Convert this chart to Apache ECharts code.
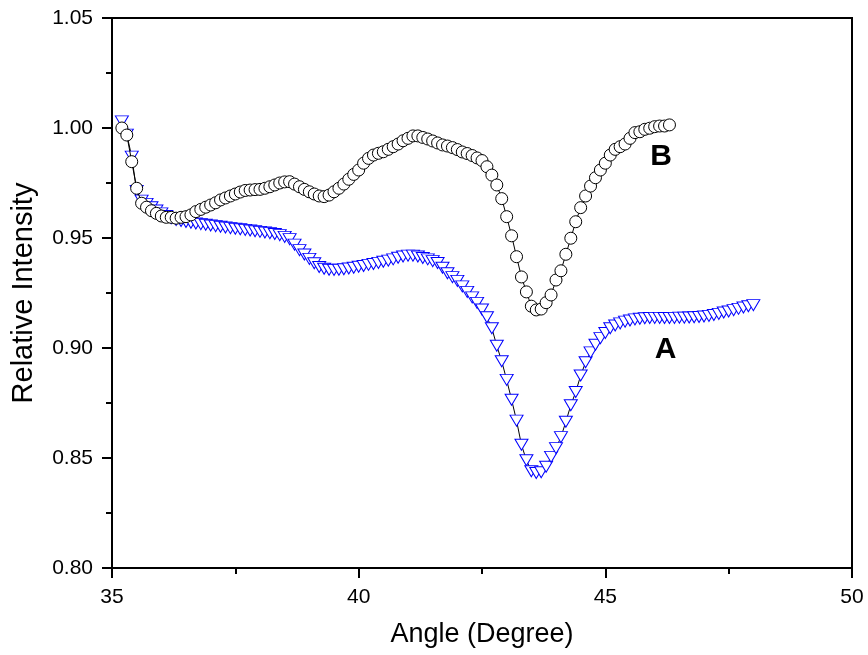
<!DOCTYPE html>
<html>
<head>
<meta charset="utf-8">
<script src="https://cdn.jsdelivr.net/npm/echarts@6/dist/echarts.min.js"></script>
<style>
  html, body { margin: 0; padding: 0; background: #fff; }
  #chart { width: 868px; height: 655px; }
</style>
</head>
<body>
<div id="chart"></div>
<script>
// Scan angles (degrees) and relative intensities for the two curves.
const angleA = [
  35.2, 35.3, 35.4, 35.5, 35.6, 35.7, 35.8, 35.9, 36.0, 36.1,
  36.2, 36.3, 36.4, 36.5, 36.6, 36.7, 36.8, 36.9, 37.0, 37.1,
  37.2, 37.3, 37.4, 37.5, 37.6, 37.7, 37.8, 37.9, 38.0, 38.1,
  38.2, 38.3, 38.4, 38.5, 38.6, 38.7, 38.8, 38.9, 39.0, 39.1,
  39.2, 39.3, 39.4, 39.5, 39.6, 39.7, 39.8, 39.9, 40.0, 40.1,
  40.2, 40.3, 40.4, 40.5, 40.6, 40.7, 40.8, 40.9, 41.0, 41.1,
  41.2, 41.3, 41.4, 41.5, 41.6, 41.7, 41.8, 41.9, 42.0, 42.1,
  42.2, 42.3, 42.4, 42.5, 42.6, 42.7, 42.8, 42.9, 43.0, 43.1,
  43.2, 43.3, 43.4, 43.5, 43.6, 43.7, 43.8, 43.9, 44.0, 44.1,
  44.2, 44.3, 44.4, 44.5, 44.6, 44.7, 44.8, 44.9, 45.0, 45.1,
  45.2, 45.3, 45.4, 45.5, 45.6, 45.7, 45.8, 45.9, 46.0, 46.1,
  46.2, 46.3, 46.4, 46.5, 46.6, 46.7, 46.8, 46.9, 47.0, 47.1,
  47.2, 47.3, 47.4, 47.5, 47.6, 47.7, 47.8, 47.9, 48.0
];
const intensityA = [
  1.0030, 0.9970, 0.9870, 0.9714, 0.9670, 0.9655, 0.9640, 0.9625, 0.9612, 0.9600,
  0.9590, 0.9582, 0.9577, 0.9573, 0.9569, 0.9566, 0.9563, 0.9560, 0.9557, 0.9554,
  0.9551, 0.9548, 0.9545, 0.9542, 0.9540, 0.9537, 0.9534, 0.9531, 0.9528, 0.9525,
  0.9522, 0.9518, 0.9513, 0.9505, 0.9495, 0.9470, 0.9445, 0.9425, 0.9405, 0.9385,
  0.9368, 0.9360, 0.9356, 0.9355, 0.9356, 0.9358, 0.9361, 0.9365, 0.9369, 0.9373,
  0.9378, 0.9382, 0.9387, 0.9392, 0.9397, 0.9403, 0.9410, 0.9416, 0.9420, 0.9420,
  0.9416, 0.9409, 0.9403, 0.9395, 0.9386, 0.9365, 0.9340, 0.9322, 0.9305, 0.9280,
  0.9255, 0.9230, 0.9205, 0.9175, 0.9140, 0.9090, 0.9010, 0.8940, 0.8855, 0.8765,
  0.8670, 0.8560, 0.8490, 0.8440, 0.8432, 0.8435, 0.8460, 0.8505, 0.8545, 0.8595,
  0.8665, 0.8740, 0.8800, 0.8875, 0.8935, 0.8980, 0.9015, 0.9045, 0.9068, 0.9090,
  0.9102, 0.9112, 0.9120, 0.9125, 0.9130, 0.9133, 0.9135, 0.9136, 0.9137, 0.9137,
  0.9136, 0.9136, 0.9137, 0.9138, 0.9138, 0.9139, 0.9140, 0.9141, 0.9143, 0.9146,
  0.9150, 0.9155, 0.9161, 0.9166, 0.9172, 0.9178, 0.9184, 0.9190, 0.9195
];

const angleB = [
  35.2, 35.3, 35.4, 35.5, 35.6, 35.7, 35.8, 35.9, 36.0, 36.1,
  36.2, 36.3, 36.4, 36.5, 36.6, 36.7, 36.8, 36.9, 37.0, 37.1,
  37.2, 37.3, 37.4, 37.5, 37.6, 37.7, 37.8, 37.9, 38.0, 38.1,
  38.2, 38.3, 38.4, 38.5, 38.6, 38.7, 38.8, 38.9, 39.0, 39.1,
  39.2, 39.3, 39.4, 39.5, 39.6, 39.7, 39.8, 39.9, 40.0, 40.1,
  40.2, 40.3, 40.4, 40.5, 40.6, 40.7, 40.8, 40.9, 41.0, 41.1,
  41.2, 41.3, 41.4, 41.5, 41.6, 41.7, 41.8, 41.9, 42.0, 42.1,
  42.2, 42.3, 42.4, 42.5, 42.6, 42.7, 42.8, 42.9, 43.0, 43.1,
  43.2, 43.3, 43.4, 43.5, 43.6, 43.7, 43.8, 43.9, 44.0, 44.1,
  44.2, 44.3, 44.4, 44.5, 44.6, 44.7, 44.8, 44.9, 45.0, 45.1,
  45.2, 45.3, 45.4, 45.5, 45.6, 45.7, 45.8, 45.9, 46.0, 46.1,
  46.2, 46.3
];
const intensityB = [
  1.0000, 0.9968, 0.9847, 0.9726, 0.9658, 0.9640, 0.9624, 0.9612, 0.9600, 0.9594,
  0.9594, 0.9590, 0.9594, 0.9597, 0.9605, 0.9620, 0.9630, 0.9640, 0.9650, 0.9660,
  0.9673, 0.9682, 0.9691, 0.9700, 0.9709, 0.9716, 0.9718, 0.9720, 0.9721, 0.9726,
  0.9733, 0.9741, 0.9750, 0.9755, 0.9756, 0.9745, 0.9733, 0.9721, 0.9710, 0.9700,
  0.9691, 0.9688, 0.9695, 0.9710, 0.9726, 0.9745, 0.9767, 0.9789, 0.9809, 0.9840,
  0.9862, 0.9877, 0.9885, 0.9892, 0.9903, 0.9915, 0.9927, 0.9942, 0.9953, 0.9964,
  0.9964, 0.9957, 0.9950, 0.9941, 0.9932, 0.9923, 0.9918, 0.9911, 0.9902, 0.9891,
  0.9884, 0.9875, 0.9864, 0.9852, 0.9824, 0.9786, 0.9741, 0.9679, 0.9597, 0.9510,
  0.9415, 0.9323, 0.9255, 0.9190, 0.9173, 0.9177, 0.9206, 0.9241, 0.9309, 0.9351,
  0.9426, 0.9499, 0.9574, 0.9638, 0.9691, 0.9736, 0.9774, 0.9809, 0.9840, 0.9877,
  0.9903, 0.9915, 0.9927, 0.9953, 0.9979, 0.9983, 0.9994, 0.9999, 1.0006, 1.0009,
  1.0009, 1.0014
];

// Curve labels, anchored in data coordinates.
const curveLabels = [
  { text: 'A', angle: 46.22, value: 0.899 },
  { text: 'B', angle: 46.13, value: 0.9868 }
];

const xTicks = { min: 35, max: 50, step: 5 };
const yTicks = { min: 0.80, max: 1.05, step: 0.05 };

const pairs = (xs, ys) => xs.map((x, i) => [x, ys[i]]);

const FONT = '"Liberation Sans", Arial, sans-serif';

const axisCommon = {
  axisLine: { show: true, onZero: false, lineStyle: { color: '#000', width: 2 } },
  axisTick: { show: true, inside: false, length: 10, lineStyle: { color: '#000', width: 2 } },
  minorTick: { show: true, splitNumber: 2, length: 6, lineStyle: { color: '#000', width: 2 } },
  splitLine: { show: false },
  minorSplitLine: { show: false }
};

const chart = echarts.init(document.getElementById('chart'), null, { renderer: 'canvas' });

chart.setOption({
  animation: false,
  backgroundColor: '#fff',
  grid: {
    left: 112, right: 16, top: 18, bottom: 87,
    show: true, borderColor: '#000', borderWidth: 2, backgroundColor: 'transparent'
  },
  xAxis: Object.assign({
    type: 'value',
    min: xTicks.min, max: xTicks.max, interval: xTicks.step,
    name: 'Angle (Degree)',
    nameLocation: 'middle',
    nameGap: 53,
    nameTextStyle: { fontFamily: FONT, fontSize: 27, color: '#000' },
    axisLabel: { fontFamily: FONT, fontSize: 21, color: '#000', margin: 19 }
  }, axisCommon),
  yAxis: Object.assign({
    type: 'value',
    min: yTicks.min, max: yTicks.max, interval: yTicks.step,
    name: 'Relative Intensity',
    nameLocation: 'middle',
    nameGap: 74,
    nameTextStyle: { fontFamily: FONT, fontSize: 29, color: '#000' },
    axisLabel: {
      fontFamily: FONT, fontSize: 21, color: '#000', margin: 19,
      formatter: v => v.toFixed(2)
    }
  }, axisCommon),
  series: [
    {
      name: 'A',
      type: 'line',
      data: pairs(angleA, intensityA),
      symbol: 'triangle',
      symbolRotate: 180,
      symbolSize: [13, 11],
      showAllSymbol: true,
      lineStyle: { color: '#000', width: 1 },
      itemStyle: { color: '#fff', borderColor: '#0000ff', borderWidth: 1 },
      z: 2
    },
    {
      name: 'B',
      type: 'line',
      data: pairs(angleB, intensityB),
      symbol: 'circle',
      symbolSize: 12,
      showAllSymbol: true,
      lineStyle: { color: '#000', width: 1 },
      itemStyle: { color: '#fff', borderColor: '#000', borderWidth: 1 },
      z: 3
    }
  ]
});

// Place the bold curve labels at their data positions.
chart.setOption({
  graphic: curveLabels.map(l => {
    const p = chart.convertToPixel({ gridIndex: 0 }, [l.angle, l.value]);
    return {
      type: 'text',
      x: p[0], y: p[1],
      style: {
        text: l.text,
        fill: '#000',
        font: 'bold 30px ' + FONT,
        align: 'center',
        verticalAlign: 'middle'
      },
      z: 10
    };
  })
});
</script>
</body>
</html>
